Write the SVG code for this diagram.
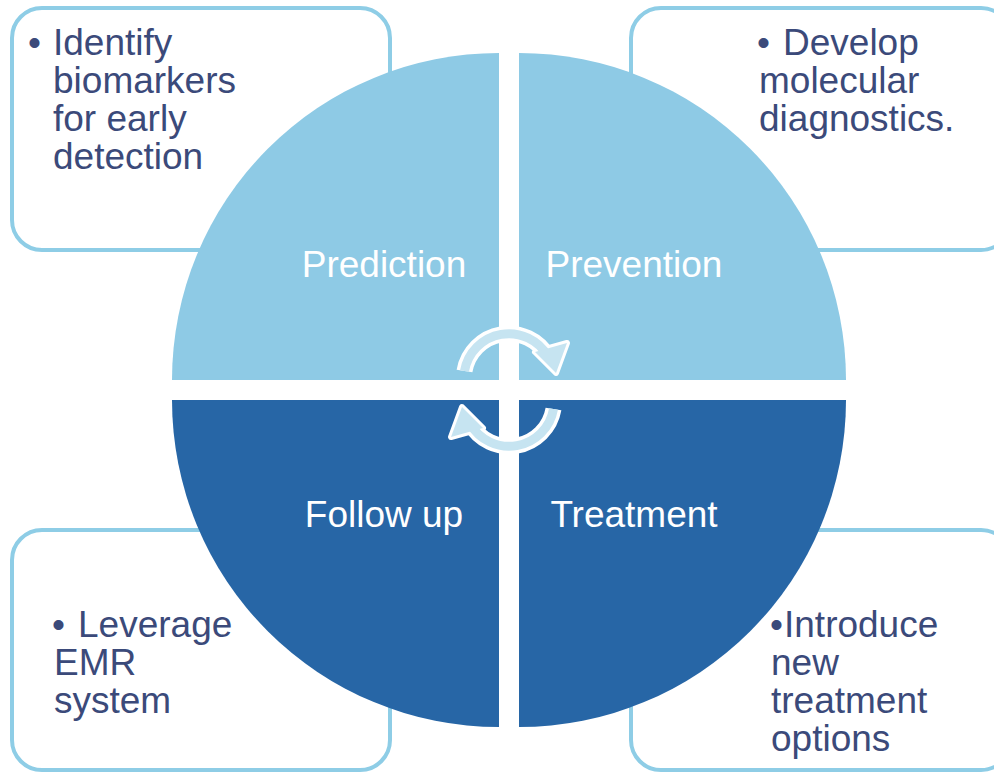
<svg xmlns="http://www.w3.org/2000/svg" width="994" height="772" viewBox="0 0 994 772">
<style>
.box{fill:#fff;stroke:#8ECDE6;stroke-width:4}
.t{font-family:"Liberation Sans",Arial,sans-serif;font-size:37px;fill:#3B4A7A}
.lbl{font-family:"Liberation Sans",Arial,sans-serif;font-size:37px;fill:#fff;text-anchor:middle}
.light{fill:#8ECAE5}
.dark{fill:#2766A6}
</style>
<rect width="994" height="772" fill="#fff"/>
<g id="box-tl"><rect class="box" x="12" y="8" width="378" height="242" rx="30"/>
<text class="t" x="28" y="55">•</text>
<text class="t"><tspan x="53" y="55">Identify</tspan><tspan x="53" y="93">biomarkers</tspan><tspan x="53" y="131">for early</tspan><tspan x="53" y="169">detection</tspan></text></g>
<g id="box-tr"><rect class="box" x="631" y="8" width="380" height="242" rx="30"/>
<text class="t" x="757" y="55">•</text>
<text class="t"><tspan x="783" y="55">Develop</tspan><tspan x="759" y="93">molecular</tspan><tspan x="759" y="131">diagnostics.</tspan></text></g>
<g id="box-bl"><rect class="box" x="12" y="530" width="378" height="240" rx="30"/>
<text class="t" x="52" y="637">•</text>
<text class="t"><tspan x="78" y="637">Leverage</tspan><tspan x="54" y="675">EMR</tspan><tspan x="54" y="713">system</tspan></text></g>
<g id="box-br"><rect class="box" x="631" y="530" width="380" height="240" rx="30"/>
<text class="t" x="770" y="637">•</text>
<text class="t"><tspan x="784" y="637">Introduce</tspan><tspan x="771" y="675">new</tspan><tspan x="771" y="713">treatment</tspan><tspan x="771" y="751">options</tspan></text></g>
<g id="prediction"><path class="light" d="M499,380 L172,380 A327,327 0 0 1 499,53 Z"/><text class="lbl" x="384" y="277">Prediction</text></g>
<g id="prevention"><path class="light" d="M519,380 L519,53 A327,327 0 0 1 846,380 Z"/><text class="lbl" x="634" y="277">Prevention</text></g>
<g id="followup"><path class="dark" d="M499,400 L499,727 A327,327 0 0 1 172,400 Z"/><text class="lbl" x="384" y="527">Follow up</text></g>
<g id="treatment"><path class="dark" d="M519,400 L846,400 A327,327 0 0 1 519,727 Z"/><text class="lbl" x="634" y="527">Treatment</text></g>
<defs>
<g id="arr">
<path d="M464.5,371 A45,45 0 0 1 548,356.5" fill="none" stroke="#fff" stroke-width="16"/>
<polygon points="535,352 567,343 556,373" fill="#fff" stroke="#fff" stroke-width="6" stroke-linejoin="round"/>
<path d="M464.5,371 A45,45 0 0 1 548,356.5" fill="none" stroke="#C6E4F1" stroke-width="9"/>
<polygon points="535,352 567,343 556,373" fill="#C6E4F1"/>
</g>
</defs>
<g id="connectors">
<use href="#arr"/>
<use href="#arr" transform="rotate(180 509 390)"/>
</g>
</svg>
